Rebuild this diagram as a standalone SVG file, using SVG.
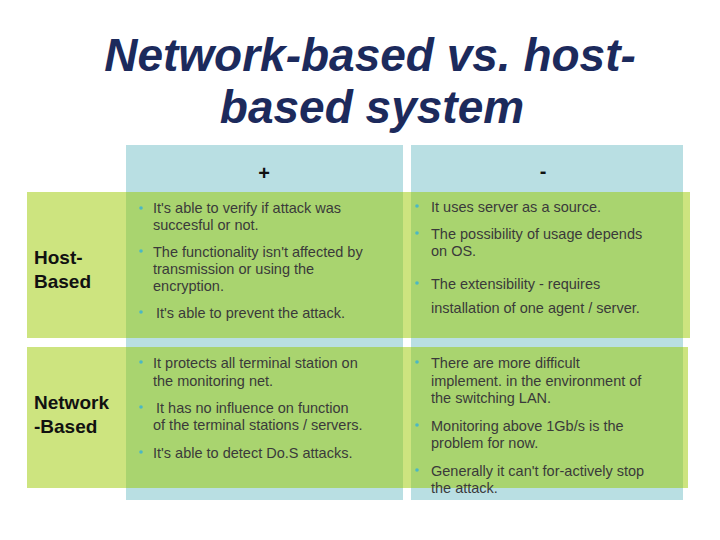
<svg xmlns="http://www.w3.org/2000/svg" width="720" height="540" viewBox="0 0 720 540">
<style>
.t{font-family:"Liberation Sans",Arial,sans-serif;font-size:14.5px;fill:#3a3a3a}
.b{fill:#4bb8c4}
.h{font-family:"Liberation Sans",Arial,sans-serif;font-size:20px;font-weight:bold;fill:#111}
.lab{font-family:"Liberation Sans",Arial,sans-serif;font-size:19px;font-weight:bold;fill:#111}
</style>
<rect width="720" height="540" fill="#fff"/>
<g id="title" font-family="Liberation Sans,Arial,sans-serif" font-weight="bold" font-style="italic" font-size="46" fill="#1c2a5c" text-anchor="middle">
<text x="370" y="71">Network-based vs. host-</text>
<text x="372" y="123">based system</text>
</g>
<g id="table">
<rect x="126" y="145" width="277" height="355" fill="#b9dfe3"/>
<rect x="411" y="145" width="272" height="355" fill="#b9dfe3"/>
<rect x="27" y="192" width="663" height="146" fill="#cde47f"/>
<rect x="27" y="347" width="661" height="141" fill="#cde47f"/>
<rect x="126" y="192" width="277" height="146" fill="#a9d46f"/>
<rect x="411" y="192" width="272" height="146" fill="#a9d46f"/>
<rect x="126" y="347" width="277" height="141" fill="#a9d46f"/>
<rect x="411" y="347" width="272" height="141" fill="#a9d46f"/>
<text class="h" x="264" y="180" text-anchor="middle">+</text>
<text class="h" x="543" y="178" text-anchor="middle">-</text>
</g>
<g id="host-label"><text class="lab" x="34" y="264">Host-</text><text class="lab" x="34" y="288">Based</text></g>
<g id="net-label"><text class="lab" x="34" y="409">Network</text><text class="lab" x="34" y="433">-Based</text></g>
<g id="host-plus">
<circle class="b" cx="141" cy="208" r="1.8"/><text class="t" x="153" y="213">It's able to verify if attack was</text><text class="t" x="153" y="230">succesful or not.</text>
<circle class="b" cx="141" cy="251" r="1.8"/><text class="t" x="153" y="257">The functionality isn't affected by</text><text class="t" x="153" y="274">transmission or using the</text><text class="t" x="153" y="291">encryption.</text>
<circle class="b" cx="141" cy="312" r="1.8"/><text class="t" x="156" y="318">It's able to prevent the attack.</text>
</g>
<g id="host-minus">
<circle class="b" cx="417" cy="206" r="1.8"/><text class="t" x="431" y="212">It uses server as a source.</text>
<circle class="b" cx="417" cy="233" r="1.8"/><text class="t" x="431" y="239">The possibility of usage depends</text><text class="t" x="431" y="256">on OS.</text>
<circle class="b" cx="417" cy="283" r="1.8"/><text class="t" x="431" y="289">The extensibility - requires</text><text class="t" x="431" y="313">installation of one agent / server.</text>
</g>
<g id="net-plus">
<circle class="b" cx="141" cy="362" r="1.8"/><text class="t" x="153" y="368">It protects all terminal station on</text><text class="t" x="153" y="386">the monitoring net.</text>
<circle class="b" cx="141" cy="407" r="1.8"/><text class="t" x="156" y="413">It has no influence on function</text><text class="t" x="153" y="430">of the terminal stations / servers.</text>
<circle class="b" cx="141" cy="452" r="1.8"/><text class="t" x="153" y="458">It's able to detect Do.S attacks.</text>
</g>
<g id="net-minus">
<circle class="b" cx="417" cy="362" r="1.8"/><text class="t" x="431" y="368">There are more difficult</text><text class="t" x="431" y="386">implement. in the environment of</text><text class="t" x="431" y="403">the switching LAN.</text>
<circle class="b" cx="417" cy="425" r="1.8"/><text class="t" x="431" y="431">Monitoring above 1Gb/s is the</text><text class="t" x="431" y="448">problem for now.</text>
<circle class="b" cx="417" cy="470" r="1.8"/><text class="t" x="431" y="476">Generally it can't for-actively stop</text><text class="t" x="431" y="493">the attack.</text>
</g>
</svg>
